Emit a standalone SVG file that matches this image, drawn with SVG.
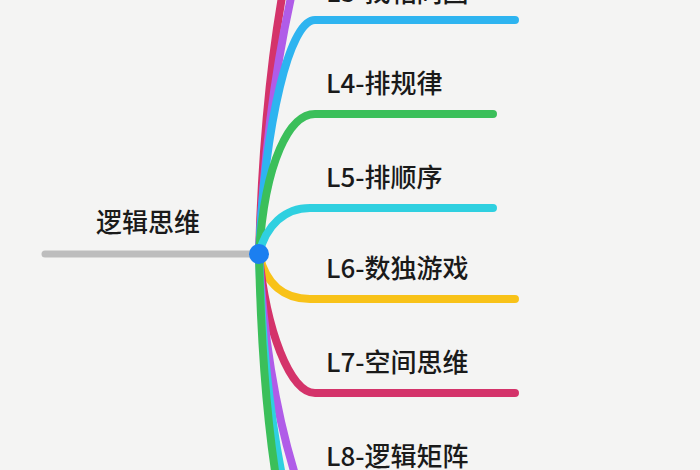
<svg xmlns="http://www.w3.org/2000/svg" width="700" height="470" viewBox="0 0 700 470">
<style>
.b{fill:none;stroke-width:8;stroke-linecap:round}
.t{font-family:"Noto Sans CJK SC","Liberation Sans",sans-serif;font-size:26px;font-weight:500;fill:#1a1a1a}
</style>
<rect width="700" height="470" fill="#f4f4f3"/>
<g id="connectors">
<path class="b" stroke="#d4336a" d="M259,254 C262,150 270,60 285,-20"/>
<path class="b" stroke="#b05ce8" d="M259,254 C264,150 276,60 295,-20"/>
<path class="b" stroke="#2eb4f0" d="M259,254 C265,120 290,20 315,20 L515,20"/>
<path class="b" stroke="#3bbf5a" d="M259,254 C265,160 290,114 315,114 L493,114"/>
<path class="b" stroke="#2fd0e0" d="M259,254 C266,225 285,208 310,208 L493,208"/>
<path class="b" stroke="#f8c218" d="M259,254 C266,285 285,299 310,299 L515,299"/>
<path class="b" stroke="#d4336a" d="M259,254 C266,330 290,393 315,393 L515,393"/>
<path class="b" stroke="#b05ce8" d="M259,254 C264,350 280,430 300,490"/>
<path class="b" stroke="#2fd0e0" d="M259,254 C262,350 272,430 285,490"/>
<path class="b" stroke="#3bbf5a" d="M259,254 C261,350 268,430 278,490"/>
<path stroke="#bdbdbd" stroke-width="7" stroke-linecap="round" d="M45,254 L252,254"/>
</g>
<g id="root"><text class="t" x="96" y="232">逻辑思维</text><circle cx="259" cy="254" r="10" fill="#1b7ff0"/></g>
<g id="n3"><text class="t" x="326" y="2">L3-找相同图</text></g>
<g id="n4"><text class="t" x="326" y="93">L4-排规律</text></g>
<g id="n5"><text class="t" x="326" y="187">L5-排顺序</text></g>
<g id="n6"><text class="t" x="326" y="278">L6-数独游戏</text></g>
<g id="n7"><text class="t" x="326" y="372">L7-空间思维</text></g>
<g id="n8"><text class="t" x="326" y="466">L8-逻辑矩阵</text></g>
</svg>
